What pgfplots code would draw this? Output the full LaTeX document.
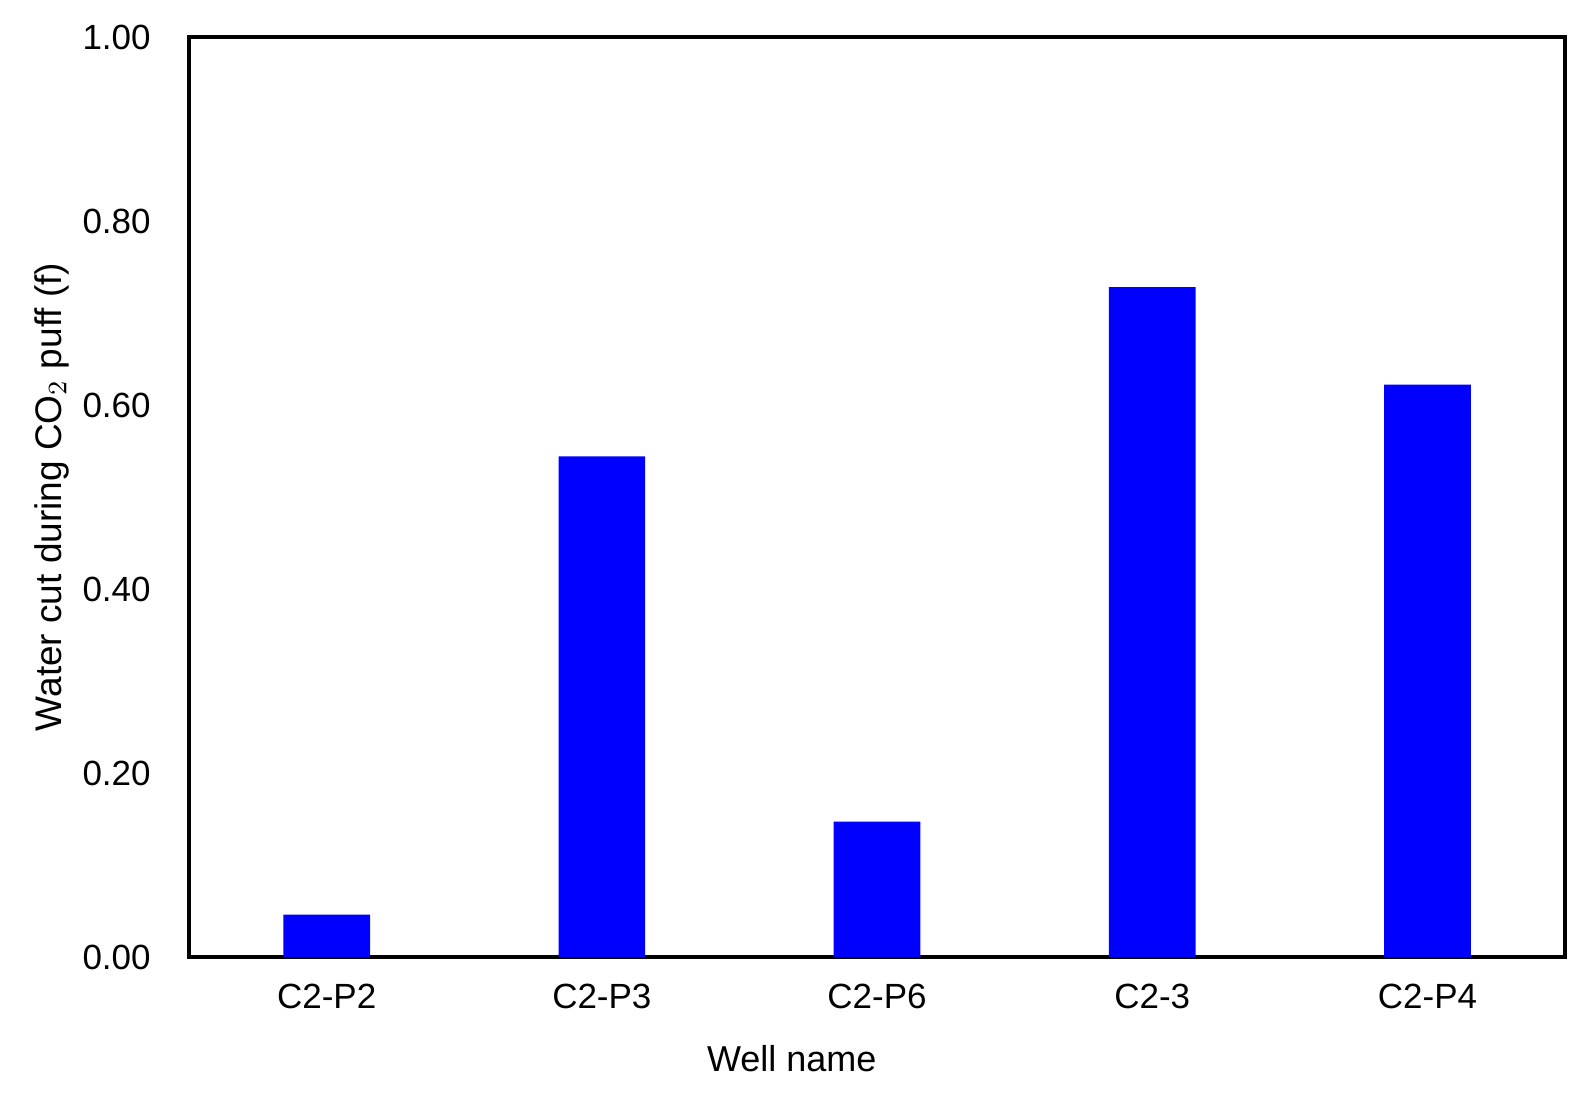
\documentclass[border=0pt]{standalone}
\usepackage{pgfplots}
\pgfplotsset{compat=1.18}
\usepackage{fontspec}
\setmainfont{Liberation Sans}
\begin{document}
\begin{tikzpicture}[x=1pt,y=1pt]
\begin{axis}[
  width=412.8pt, height=276pt,
  scale only axis,
  axis line style={line width=1.1pt},
  xmin=-0.5, xmax=4.5,
  ymin=0, ymax=1,
  xtick={0,1,2,3,4},
  xticklabels={C2-P2,C2-P3,C2-P6,C2-3,C2-P4},
  ytick={0,0.2,0.4,0.6,0.8,1.0},
  /pgf/number format/assume math mode=true,
  yticklabel style={/pgf/number format/fixed,/pgf/number format/fixed zerofill,/pgf/number format/precision=2,xshift=-8pt},
  major tick length=0pt,
  tick label style={font=\fontsize{10.5}{12}\selectfont},
  xticklabel style={yshift=-4.5pt},
  xlabel={Well name},
  ylabel={Water cut during CO$_2$ puff (f)},
  xlabel style={font=\fontsize{10.8}{12}\selectfont,at={(rel axis cs:0.438,0)},anchor=center,yshift=-30.6pt},
  ylabel style={font=\fontsize{11.1}{12}\selectfont},
  every axis y label/.append style={at={(rel axis cs:-0.100,0.5)},anchor=center},
  clip=false,
]
\addplot[ybar, bar width=0.315, fill={rgb,255:red,0;green,0;blue,255}, draw=none]
  coordinates {(0,0.046) (1,0.544) (2,0.147) (3,0.728) (4,0.622)};
\path (rel axis cs:-0.1374,-0.1554) rectangle (rel axis cs:1.0203,1.0402);
\end{axis}
\end{tikzpicture}
\end{document}
